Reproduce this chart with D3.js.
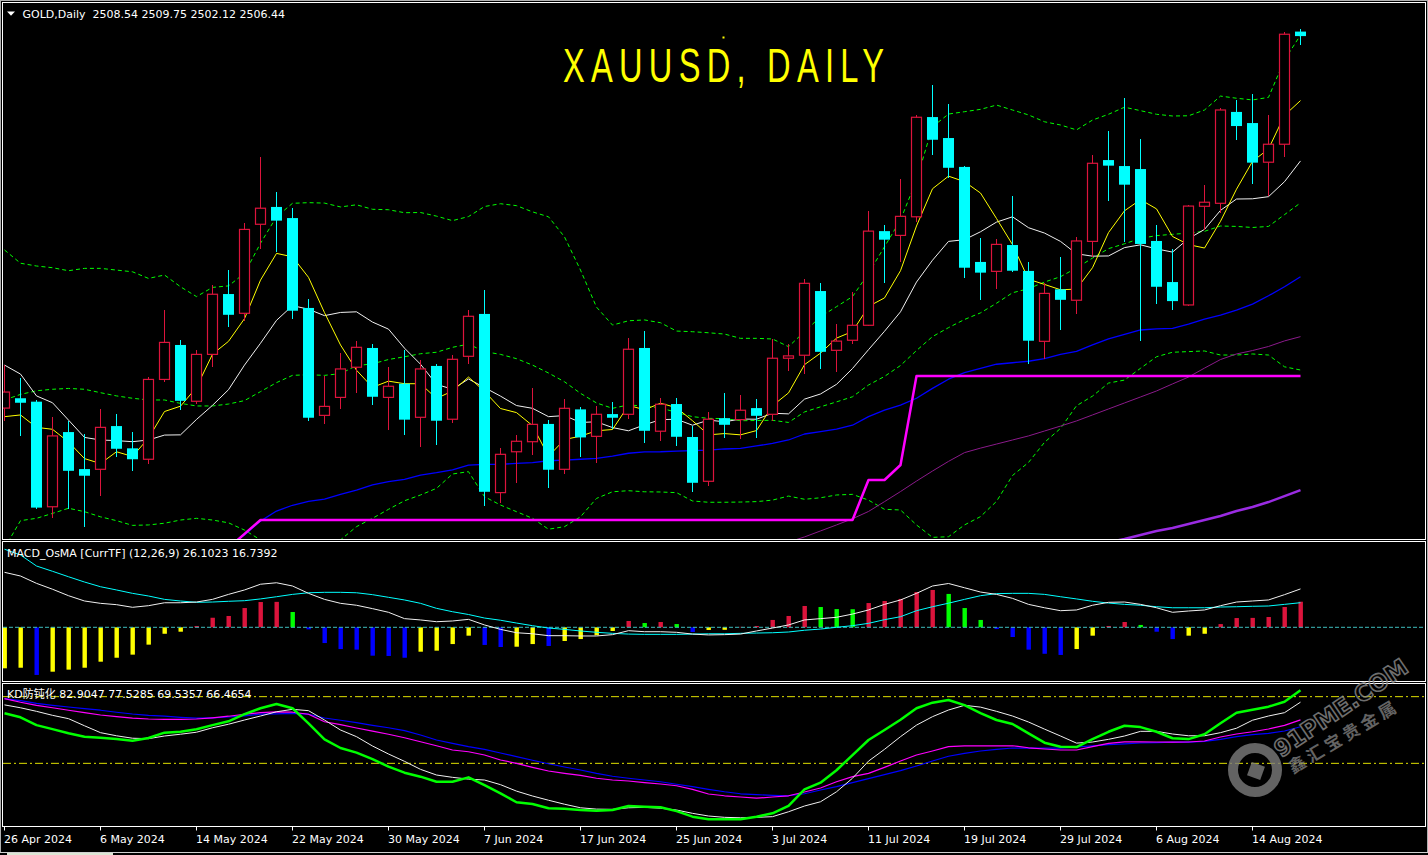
<!DOCTYPE html>
<html><head><meta charset="utf-8">
<script src="https://cdn.jsdelivr.net/npm/d3@7"></script>
<style>
html,body{margin:0;padding:0;background:#000;overflow:hidden;}
svg{display:block;}
</style></head><body>
<svg id="chart" width="1428" height="855"></svg>
<script>
// ---------------- DATA ----------------
const tickIdx = [0,6,12,18,24,30,36,42,48,54,60,66,72,78];
const tickLabels = ["26 Apr 2024","6 May 2024","14 May 2024","22 May 2024","30 May 2024","7 Jun 2024","17 Jun 2024","25 Jun 2024","3 Jul 2024","11 Jul 2024","19 Jul 2024","29 Jul 2024","6 Aug 2024","14 Aug 2024"];

const openP = [2332.6,2337.2,2335.6,2286.5,2321.4,2304.1,2304.0,2324.2,2313.8,2308.7,
2346.0,2362.1,2335.8,2357.7,2385.9,2376.9,2418.5,2426.6,2421.4,2379.4,
2329.2,2337.6,2351.7,2360.7,2337.6,2344.0,2328.3,2352.3,2327.4,2356.8,
2376.6,2293.1,2312.2,2316.9,2325.2,2304.0,2332.0,2319.4,2329.8,2329.7,
2360.7,2321.8,2334.5,2319.1,2298.4,2327.9,2327.2,2332.6,2329.7,2355.9,
2357.3,2387.3,2359.6,2364.3,2371.3,2415.3,2413.3,2422.0,2468.6,2458.8,
2445.3,2400.9,2396.5,2408.8,2396.7,2363.8,2388.1,2383.0,2410.5,2448.5,
2445.7,2444.3,2410.7,2391.5,2380.8,2426.9,2428.3,2471.0,2465.8,2447.5,
2455.9,2508.54];
const highP = [2352.7,2346.8,2336.4,2328.6,2326.7,2320.5,2332.2,2329.8,2321.4,2347.0,
2378.4,2364.4,2359.7,2390.1,2397.1,2419.1,2450.1,2433.6,2426.1,2383.6,
2347.7,2358.3,2363.9,2362.5,2351.8,2359.7,2355.1,2353.2,2357.4,2378.4,
2387.8,2313.8,2320.0,2342.0,2327.0,2336.7,2333.2,2333.6,2335.4,2365.3,
2368.6,2337.3,2337.3,2324.4,2330.6,2339.5,2338.6,2336.8,2364.9,2362.5,
2392.8,2390.9,2371.9,2386.7,2424.7,2418.2,2439.6,2469.6,2483.6,2474.7,
2445.9,2412.1,2411.6,2431.7,2400.9,2390.9,2403.2,2412.5,2450.9,2462.1,
2477.5,2458.3,2418.2,2406.9,2427.5,2436.8,2473.0,2476.6,2479.4,2469.6,
2508.2,2509.75];
const lowP = [2326.6,2319.7,2285.4,2281.4,2285.3,2277.2,2291.7,2309.9,2303.3,2306.3,
2344.9,2331.8,2334.6,2351.7,2370.6,2373.4,2407.1,2405.5,2374.4,2326.7,
2325.3,2332.0,2339.8,2334.0,2322.5,2320.2,2314.5,2315.3,2325.6,2353.3,
2287.0,2288.1,2297.7,2310.8,2295.4,2301.7,2309.9,2306.8,2323.0,2327.6,
2316.4,2317.4,2315.0,2293.5,2296.3,2318.8,2318.2,2318.8,2326.7,2350.1,
2348.7,2350.9,2349.3,2362.5,2371.0,2391.2,2401.0,2419.7,2450.9,2440.0,
2393.5,2383.2,2388.1,2396.3,2353.1,2355.5,2369.2,2376.4,2403.3,2429.5,
2410.4,2364.1,2381.2,2378.4,2380.4,2415.8,2423.6,2457.9,2437.3,2431.7,
2450.1,2502.12];
const closeP = [2340.1,2335.1,2286.1,2319.6,2303.3,2301.0,2323.6,2313.6,2308.7,2346.0,
2363.3,2336.0,2357.7,2385.8,2376.2,2416.1,2426.0,2420.2,2378.1,2328.1,
2333.4,2350.9,2361.0,2337.9,2342.8,2327.2,2350.9,2326.7,2355.4,2375.5,
2293.5,2311.0,2317.1,2325.0,2303.8,2332.5,2318.9,2329.7,2328.1,2360.1,
2322.0,2334.4,2319.2,2297.7,2327.4,2324.8,2331.6,2329.0,2355.9,2357.0,
2390.9,2358.9,2363.9,2371.3,2415.3,2411.3,2422.2,2468.5,2458.0,2444.9,
2398.2,2395.9,2409.1,2396.8,2364.1,2386.2,2383.2,2410.7,2447.0,2445.9,
2437.0,2409.3,2389.3,2382.6,2427.0,2428.8,2471.9,2464.4,2447.3,2455.9,
2507.3,2506.44];

// yellow line
const maFast = [2328.6,2329.4,2323.6,2322.7,2316.8,2309.0,2306.7,2312.2,2310.0,2318.6,
2331.0,2333.5,2342.3,2357.8,2363.8,2374.4,2392.4,2404.9,2403.3,2393.7,
2377.2,2362.1,2350.3,2342.3,2345.2,2344.0,2344.0,2337.1,2340.6,2347.1,
2340.4,2332.4,2330.5,2324.4,2310.1,2317.9,2319.5,2322.0,2322.6,2333.9,
2331.8,2334.9,2332.8,2326.7,2320.1,2320.7,2320.1,2322.1,2333.7,2339.7,
2352.9,2358.3,2365.3,2368.4,2380.1,2384.1,2396.8,2417.7,2435.1,2441.0,
2438.4,2433.1,2421.2,2409.0,2392.8,2390.4,2387.9,2388.2,2398.2,2414.6,
2424.8,2430.0,2425.7,2412.8,2409.0,2407.4,2419.9,2434.9,2447.9,2453.7,
2469.4,2476.3];
// white line
const maMid = [2352.7,2348.5,2338.3,2335.1,2327.0,2318.9,2317.7,2317.4,2316.9,2317.7,
2320.0,2320.1,2327.3,2333.9,2341.2,2352.7,2362.9,2373.6,2380.5,2378.8,
2375.8,2377.3,2377.6,2372.8,2369.5,2360.6,2353.1,2343.7,2341.4,2346.2,
2342.2,2338.2,2333.8,2332.5,2328.6,2329.1,2325.9,2326.2,2323.5,2322.0,
2324.8,2327.2,2327.4,2324.6,2327.0,2326.2,2327.5,2327.4,2330.2,2329.9,
2336.8,2339.2,2343.7,2351.1,2359.9,2368.5,2377.6,2391.5,2401.7,2410.5,
2411.3,2415.0,2419.5,2422.0,2416.9,2414.4,2410.5,2404.7,2403.6,2403.7,
2407.6,2408.9,2407.0,2405.5,2411.8,2416.1,2425.0,2430.3,2430.4,2431.4,
2438.4,2448.1];
// bands (green dashed)
const bandMid = [2336.4,2339.0,2340.7,2341.4,2341.8,2341.4,2339.8,2338.3,2337.2,2336.4,
2336.4,2334.8,2333.6,2333.6,2334.5,2336.1,2340.3,2344.5,2347.9,2348.2,
2347.9,2348.7,2352.4,2353.3,2355.3,2356.6,2358.0,2358.7,2361.0,2362.5,
2359.0,2357.7,2355.7,2352.7,2349.0,2344.9,2339.5,2335.0,2332.5,2334.1,
2333.5,2332.7,2330.6,2328.6,2327.8,2327.7,2326.7,2326.8,2326.9,2325.9,
2330.8,2333.2,2335.5,2337.9,2343.4,2347.4,2352.5,2359.5,2366.0,2370.2,
2374.0,2377.1,2381.6,2386.5,2388.4,2391.5,2394.0,2398.1,2402.7,2407.1,
2409.4,2411.9,2413.2,2413.8,2414.4,2415.2,2417.7,2417.5,2417.0,2417.5,
2423.0,2428.5];
const bandUp = [2406.5,2400.3,2399.0,2398.2,2396.8,2397.9,2397.9,2397.1,2396.3,2393.2,
2394.8,2389.3,2384.7,2389.0,2389.7,2395.6,2409.6,2422.0,2428.3,2428.6,
2428.4,2426.6,2427.6,2425.5,2425.3,2423.9,2424.0,2422.3,2420.2,2422.1,
2426.8,2428.1,2427.2,2424.3,2422.0,2412.6,2397.1,2379.8,2371.4,2373.4,
2373.8,2372.5,2368.6,2368.3,2367.8,2367.2,2365.2,2365.2,2364.9,2361.3,
2368.3,2375.3,2380.0,2384.7,2395.6,2408.0,2420.5,2439.2,2464.1,2470.0,
2471.1,2472.2,2474.2,2471.9,2469.6,2466.4,2464.9,2462.6,2467.2,2469.9,
2473.2,2471.6,2469.9,2469.1,2469.2,2471.9,2478.4,2477.4,2476.6,2477.8,
2495.3,2506.9];
const bandLow = [2267.2,2280.0,2281.1,2283.4,2285.8,2284.2,2281.8,2280.0,2277.8,2278.0,
2278.8,2280.3,2281.1,2280.3,2279.0,2275.6,2271.0,2266.9,2267.5,2267.8,
2267.3,2271.0,2277.2,2281.1,2285.3,2289.3,2292.0,2295.1,2301.8,2302.9,
2291.2,2287.3,2284.2,2281.1,2276.0,2277.2,2281.8,2290.4,2293.5,2294.0,
2293.5,2293.4,2293.1,2289.2,2288.6,2288.6,2288.7,2288.9,2289.6,2291.5,
2290.0,2290.7,2292.0,2292.3,2289.6,2285.3,2285.0,2278.0,2272.2,2272.5,
2278.0,2281.9,2289.0,2301.1,2307.2,2316.6,2323.1,2333.7,2338.2,2344.3,
2345.7,2351.2,2356.6,2358.7,2359.0,2359.3,2357.4,2357.4,2357.9,2357.4,
2351.9,2350.4];
// blue line (from bar 14)
const maBlue = [null,null,null,null,null,null,null,null,null,null,null,null,null,null,
2268.6,2273.3,2279.8,2284.5,2287.2,2289.0,2290.1,2292.3,2294.3,2296.7,
2298.2,2299.3,2301.3,2302.4,2303.7,2306.0,2306.3,2306.3,2306.8,2307.1,
2308.0,2308.3,2308.7,2309.1,2310.2,2311.5,2312.1,2312.2,2312.5,2312.7,
2313.0,2313.5,2313.8,2314.9,2316.1,2317.7,2320.5,2321.6,2322.8,2324.6,
2328.6,2331.7,2334.0,2337.2,2341.8,2346.1,2349.2,2351.2,2353.1,2353.8,
2354.5,2355.7,2357.7,2359.1,2362.1,2364.9,2367.1,2369.1,2369.6,2369.9,
2371.8,2374.2,2376.1,2378.4,2381.2,2385.1,2389.3,2394.0];
// thin purple line (from bar 49)
const maPurple = [null,null,null,null,null,null,null,null,null,null,
null,null,null,null,null,null,null,null,null,null,
null,null,null,null,null,null,null,null,null,null,
null,null,null,null,null,null,null,null,null,null,
null,null,null,null,null,null,null,null,null,
2270.0,2272.4,2275.2,2278.0,2280.9,2284.3,2288.9,2293.6,2298.5,2303.2,
2307.7,2311.8,2313.9,2315.8,2317.7,2319.6,2321.9,2324.2,2326.6,2329.4,
2332.2,2335.0,2337.8,2340.6,2343.9,2347.1,2351.3,2355.3,2357.9,2359.5,
2361.4,2364.0,2366.0];
// thick violet line (from bar 68)
const maViolet = [null,null,null,null,null,null,null,null,null,null,
null,null,null,null,null,null,null,null,null,null,
null,null,null,null,null,null,null,null,null,null,
null,null,null,null,null,null,null,null,null,null,
null,null,null,null,null,null,null,null,null,null,
null,null,null,null,null,null,null,null,null,null,
null,null,null,null,null,null,null,null,
2268.2,2270.0,2271.4,2273.3,2275.2,2276.6,2278.4,2280.3,2282.2,2284.5,
2286.4,2288.7,2291.5,2294.3];
// magenta step line (from bar 14)
const stepLine = [null,null,null,null,null,null,null,null,null,null,null,null,null,null,
2267.2,2273.8,
2280.3,2280.3,2280.3,2280.3,2280.3,2280.3,2280.3,2280.3,2280.3,2280.3,
2280.3,2280.3,2280.3,2280.3,2280.3,2280.3,2280.3,2280.3,2280.3,2280.3,
2280.3,2280.3,2280.3,2280.3,2280.3,2280.3,2280.3,2280.3,2280.3,2280.3,
2280.3,2280.3,2280.3,2280.3,2280.3,2280.3,2280.3,2280.3,
2299.0,2299.0,2306.0,
2347.6,2347.6,2347.6,2347.6,2347.6,2347.6,2347.6,2347.6,2347.6,2347.6,
2347.6,2347.6,2347.6,2347.6,2347.6,2347.6,2347.6,2347.6,2347.6,2347.6,
2347.6,2347.6,2347.6,2347.6,2347.6];

// MACD panel
const macdHist = [-27.9,-27.5,-32.4,-30.2,-28.8,-27.5,-23.4,-20.7,-18.6,-11.8,
-4.4,-3.0,0.9,6.5,7.7,13.1,17.2,17.3,10.4,-1.4,
-10.7,-14.8,-15.2,-19.3,-19.5,-20.7,-16.6,-15.9,-11.4,-5.7,
-12.0,-13.4,-13.2,-11.4,-12.7,-9.3,-8.0,-5.4,-2.5,4.3,
2.9,3.6,2.2,-3.2,-1.8,-1.7,0.3,0.9,5.0,7.7,
14.5,13.8,12.4,12.3,16.5,17.9,19.3,24.0,25.4,22.7,
13.1,5.0,-1.2,-6.6,-15.2,-18.0,-18.8,-14.8,-5.7,0.9,
3.6,1.6,-3.0,-8.0,-5.7,-4.4,2.2,6.3,6.4,7.0,
13.8,17.4];
const macdMain = [37.4,34.9,29.9,25.9,21.5,17.9,16.3,15.4,13.6,14.7,
16.7,16.7,17.2,19.0,22.4,25.4,29.3,30.3,28.1,23.1,
19.0,16.3,15.0,12.7,10.2,5.9,5.0,3.8,4.3,5.4,
1.6,-1.4,-3.7,-4.4,-5.7,-5.7,-5.9,-5.9,-5.0,-2.3,
-3.0,-3.0,-3.4,-4.6,-5.2,-5.0,-4.6,-2.5,-0.5,1.6,
5.0,5.9,6.8,9.0,11.8,15.6,18.6,23.1,28.1,29.8,
26.9,24.0,22.4,19.7,15.6,13.3,11.3,11.8,15.0,17.0,
17.2,15.6,13.3,10.2,11.1,11.8,14.7,17.2,17.9,18.6,
22.2,26.1023];
const macdSignal = [53.1,49.2,41.7,38.1,34.4,30.8,27.6,25.4,23.1,21.3,
19.0,17.9,17.0,17.2,17.7,18.1,19.3,20.8,22.4,23.5,
23.8,23.8,23.5,22.2,20.4,18.6,16.3,12.9,10.6,8.7,
6.3,4.8,2.9,1.1,-0.5,-1.4,-2.5,-3.4,-4.1,-4.6,
-4.8,-4.8,-4.8,-4.6,-4.4,-4.4,-4.1,-3.9,-3.7,-3.2,
-2.0,-1.2,0.0,1.1,2.7,5.2,7.2,11.3,14.0,16.4,
19.0,21.5,22.9,23.1,23.1,22.4,20.8,19.3,17.7,16.5,
15.6,15.0,14.0,13.3,13.3,13.3,13.8,14.0,14.3,14.5,
15.6,16.7392];

// KD panel
const kdLevels = [80, 50];
const kdGreen = [72.5,70.7,67.2,65.4,63.5,62.0,61.5,60.9,60.2,61.4,
63.8,64.2,65.3,67.2,68.9,72.1,74.8,76.7,74.8,68.0,
60.8,56.9,54.8,51.9,48.5,45.8,44.0,41.7,41.7,43.7,
40.2,36.5,32.5,31.7,29.8,29.6,29.0,28.7,29.0,30.8,
30.5,30.2,28.5,26.0,24.8,24.8,24.8,26.0,27.5,30.9,
38.3,41.3,46.9,53.7,60.5,65.0,69.6,74.8,77.3,78.5,
76.2,72.6,69.5,67.7,63.5,59.3,57.5,57.3,60.9,64.2,
66.9,66.3,64.2,61.3,60.9,63.1,68.0,72.8,74.1,75.5,
77.7,82.9047];
const kdWhite = [76.3,75.0,73.4,71.6,70.1,66.9,63.8,62.4,61.3,61.1,
62.3,63.1,64.0,66.0,67.6,69.5,71.3,73.2,74.3,73.7,
69.5,65.0,62.0,57.8,54.2,50.9,47.3,44.75,43.7,42.9,
42.5,40.4,37.5,35.3,33.4,31.6,30.0,29.4,29.3,30.0,
30.2,29.8,29.0,27.5,26.3,25.7,25.5,25.7,26.0,28.2,
30.8,32.7,37.2,43.3,51.0,56.3,62.0,67.2,71.0,74.0,
76.1,75.3,73.4,71.3,68.6,65.4,62.3,59.1,59.6,60.8,
62.3,64.4,64.4,63.2,62.4,62.4,63.8,65.8,69.4,71.3,
72.8,77.5285];
const kdMagenta = [79.1,77.5,76.1,75.0,73.9,72.8,71.75,71.0,70.3,69.95,
69.8,69.8,69.95,70.5,71.2,72.1,72.8,73.2,73.0,72.1,
68.7,67.4,65.9,64.5,63.1,61.5,59.7,57.9,56.0,55.2,
53.75,51.5,50.0,48.2,46.55,45.5,44.6,43.3,42.5,42.05,
41.3,40.7,39.9,38.3,36.2,35.4,34.85,34.3,34.85,35.4,
37.1,38.9,41.7,44.0,45.5,48.2,51.05,53.75,55.55,57.5,
57.9,57.9,57.9,57.9,57.0,56.45,56.0,56.0,57.5,59.0,
59.7,59.7,59.6,59.5,59.6,60.05,61.85,63.2,64.2,65.45,
67.1,69.5357];
const kdBlue = [79.1,78.2,77.0,76.1,75.35,74.6,73.9,73.0,72.2,71.6,
71.2,70.7,70.3,70.5,70.85,71.4,72.1,72.3,72.5,72.1,
70.4,69.4,68.3,67.1,66.0,64.7,62.75,60.5,59.0,57.5,
56.3,54.65,53.0,51.4,49.8,48.35,47.0,45.5,44.2,43.3,
42.5,41.7,40.6,39.5,38.3,37.2,36.3,35.9,35.6,35.4,
36.3,38.0,39.5,41.3,43.1,44.9,46.7,48.8,51.05,53.2,
54.5,55.55,56.3,56.9,56.8,56.8,56.8,57.35,57.9,58.4,
58.8,59.15,59.3,59.5,59.5,59.9,60.8,62.0,62.9,63.5,
64.55,66.4654];

// ---------------- DRAW ----------------
const RED = '#dc143c', CYAN = '#00ffff', YEL = '#ffff00', LIME = '#00ff00', BLUE = '#0000ff';
const FONT = '"DejaVu Sans","Noto Sans CJK SC",sans-serif';
const svg = d3.select('#chart');
svg.append('rect').attr('width',1428).attr('height',855).attr('fill','#000');

const n = closeP.length;
const idx = d3.range(n);
const x = d3.scaleLinear().domain([0, n-1]).range([4.5, 1300.5]);
const yMain = d3.scaleLinear().domain([2271.9, 2521.9]).range([538, 3]);
const yMacd = d3.scaleLinear().domain([-37.21, 58.71]).range([682, 541]);
const yKd = d3.scaleLinear().domain([21.8, 85.7]).range([826, 684]);

const defs = svg.append('defs');
function clip(id, y0, y1){
  defs.append('clipPath').attr('id', id).append('rect')
    .attr('x', 3).attr('y', y0).attr('width', 1422).attr('height', y1 - y0);
}
clip('cMain', 3, 539); clip('cMacd', 542, 681); clip('cKd', 684, 826);

function drawLine(g, data, ys, color, w, dash){
  const gen = d3.line().defined(d => d != null).x((d,i) => x(i)).y(d => ys(d));
  const p = g.append('path').attr('d', gen(data)).attr('fill','none')
    .attr('stroke', color).attr('stroke-width', w).attr('stroke-linejoin','round');
  if (dash) p.attr('stroke-dasharray', dash);
  return p;
}

// ---- main panel ----
const gMain = svg.append('g').attr('clip-path','url(#cMain)');
drawLine(gMain, bandUp, yMain, LIME, 1, '4,3');
drawLine(gMain, bandMid, yMain, LIME, 1, '4,3');
drawLine(gMain, bandLow, yMain, LIME, 1, '4,3');
drawLine(gMain, maBlue, yMain, BLUE, 1.3);
drawLine(gMain, maPurple, yMain, '#8b1a8b', 1);
drawLine(gMain, maViolet, yMain, '#9a2be2', 2.5);
drawLine(gMain, stepLine, yMain, '#ff00ff', 2.5);
drawLine(gMain, maMid, yMain, '#f0f0f0', 1);
drawLine(gMain, maFast, yMain, YEL, 1);

const gC = gMain.append('g');
gC.selectAll('line.wick').data(idx).join('line').attr('class','wick')
  .attr('x1', i => x(i)).attr('x2', i => x(i))
  .attr('y1', i => yMain(highP[i])).attr('y2', i => yMain(lowP[i]))
  .attr('stroke', i => closeP[i] >= openP[i] ? RED : CYAN).attr('stroke-width', 1)
  .attr('shape-rendering','crispEdges');
gC.selectAll('rect.body').data(idx).join('rect').attr('class','body')
  .each(function(i){
    const up = closeP[i] >= openP[i];
    const top = yMain(Math.max(openP[i], closeP[i]));
    const bot = yMain(Math.min(openP[i], closeP[i]));
    const s = d3.select(this);
    if (up) {
      s.attr('x', x(i) - 5).attr('width', 10).attr('y', top).attr('height', Math.max(bot - top, 1))
       .attr('fill', '#000').attr('stroke', RED).attr('stroke-width', 1.2);
    } else {
      s.attr('x', x(i) - 5.5).attr('width', 11).attr('y', top).attr('height', Math.max(bot - top, 1.5))
       .attr('fill', CYAN);
    }
  });

// title (narrow glyphs, wide spacing), spans 563..884
svg.append('text').attr('transform', 'translate(563,82) scale(0.68,1)')
  .attr('font-family','"Liberation Sans",Arial,sans-serif')
  .attr('font-size', 48).attr('fill', YEL)
  .attr('textLength', 472).attr('lengthAdjust', 'spacing')
  .text('XAUUSD, DAILY');
svg.append('rect').attr('x', 722.5).attr('y', 36.5).attr('width', 2).attr('height', 2).attr('fill', YEL);

// header
svg.append('path').attr('d','M7,11.5 L15,11.5 L11,15.8 Z').attr('fill','#fff');
svg.append('text').attr('x', 22.5).attr('y', 17.5).attr('font-family', FONT).attr('font-size', 11)
  .attr('fill','#fff').style('white-space','pre')
  .text('GOLD,Daily  2508.54 2509.75 2502.12 2506.44');

// ---- MACD panel ----
const gM = svg.append('g').attr('clip-path','url(#cMacd)');
const zero = yMacd(0);
gM.selectAll('rect.h').data(idx).join('rect').attr('class','h')
  .attr('x', i => x(i) - 2).attr('width', 4.4)
  .attr('y', i => Math.min(yMacd(macdHist[i]), zero))
  .attr('height', i => Math.abs(yMacd(macdHist[i]) - zero))
  .attr('fill', i => {
    const v = macdHist[i], p = i > 0 ? macdHist[i-1] : v;
    if (v >= 0) return v >= p ? RED : LIME;
    return v >= p ? YEL : BLUE;
  });
gM.append('line').attr('x1', 3).attr('x2', 1425).attr('y1', zero).attr('y2', zero)
  .attr('stroke', '#3cbcbc').attr('stroke-width', 1).attr('stroke-dasharray', '4,2');
drawLine(gM, macdSignal, yMacd, CYAN, 1);
drawLine(gM, macdMain, yMacd, '#f0f0f0', 1);
svg.append('text').attr('x', 7).attr('y', 556.5).attr('font-family', FONT).attr('font-size', 11)
  .attr('fill', '#fff').text('MACD_OsMA [CurrTF] (12,26,9) 26.1023 16.7392');

// ---- KD panel ----
const gK = svg.append('g').attr('clip-path','url(#cKd)');
gK.selectAll('line.lv').data(kdLevels).join('line').attr('class','lv')
  .attr('x1', 3).attr('x2', 1425).attr('y1', d => yKd(d)).attr('y2', d => yKd(d))
  .attr('stroke', '#e0e000').attr('stroke-width', 1).attr('stroke-dasharray', '8,3,2,3');
drawLine(gK, kdBlue, yKd, BLUE, 1.2);
drawLine(gK, kdMagenta, yKd, '#ff00ff', 1.2);
drawLine(gK, kdWhite, yKd, '#f0f0f0', 1);
drawLine(gK, kdGreen, yKd, LIME, 2.5);
svg.append('text').attr('x', 7).attr('y', 698).attr('font-family', FONT).attr('font-size', 11)
  .attr('fill', '#fff').text('KD防钝化 82.9047 77.5285 69.5357 66.4654');

// ---- panel borders ----
[[2.5, 537], [541.5, 140], [683.5, 143]].forEach(([y0, h]) => {
  svg.append('rect').attr('x', 2.5).attr('y', y0).attr('width', 1423).attr('height', h)
    .attr('fill', 'none').attr('stroke', '#fff').attr('stroke-width', 1);
});
svg.append('rect').attr('x', 0.5).attr('y', 0.5).attr('width', 1427).attr('height', 852)
  .attr('fill','none').attr('stroke','#b0b0b0').attr('stroke-width', 1);

// ---- time axis ----
const axis = d3.axisBottom(x).tickValues(tickIdx).tickFormat((d, k) => tickLabels[k])
  .tickSize(4).tickSizeOuter(0).offset(0);
const gA = svg.append('g').attr('transform', 'translate(0,826.5)').call(axis);
gA.select('.domain').remove();
gA.selectAll('.tick line').attr('stroke', '#fff');
gA.selectAll('.tick text').attr('fill', '#fff').attr('font-family', FONT).attr('font-size', 11)
  .attr('text-anchor', 'start').attr('x', -0.5).attr('y', 9);

// bottom strip
svg.append('line').attr('x1', 0).attr('x2', 1428).attr('y1', 852.5).attr('y2', 852.5).attr('stroke', '#d0d0d0');
svg.append('rect').attr('x', 7).attr('y', 853).attr('width', 106).attr('height', 2).attr('fill', '#dbe6d4');

// ---- watermark ----
const wm = svg.append('g').attr('opacity', 0.8);
wm.append('circle').attr('cx', 1255).attr('cy', 770).attr('r', 22).attr('fill', 'none')
  .attr('stroke', '#7c7c7c').attr('stroke-width', 10);
wm.append('rect').attr('x', -7).attr('y', -7).attr('width', 14).attr('height', 14).attr('fill', '#7c7c7c')
  .attr('transform', 'translate(1256,771) rotate(20)');
wm.append('text').attr('transform', 'translate(1281,758) rotate(-34)').attr('font-family', '"DejaVu Sans",sans-serif')
  .attr('font-size', 23).attr('font-weight', 'bold').attr('fill', 'none').attr('stroke', '#8a8a8a').attr('stroke-width', 1.6)
  .text('91PME.COM');
wm.append('text').attr('transform', 'translate(1293,774) rotate(-31)').attr('font-family', '"Noto Sans CJK SC",sans-serif')
  .attr('font-size', 17).attr('font-weight', 'bold').attr('fill', '#7c7c7c').attr('letter-spacing', 4)
  .text('鑫汇宝贵金属');
</script>
</body></html>
